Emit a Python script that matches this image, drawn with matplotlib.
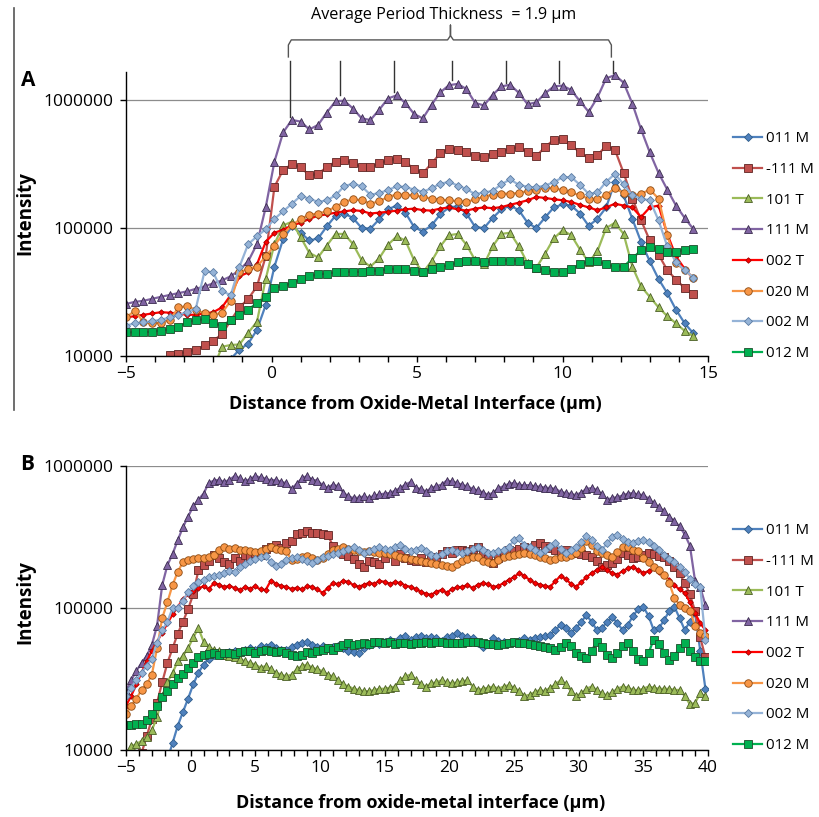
import numpy as np
import matplotlib
matplotlib.use('Agg')
import matplotlib.pyplot as plt
from matplotlib.lines import Line2D
from matplotlib.ticker import MultipleLocator, NullLocator

plt.rcParams['font.family'] = ['Open Sans', 'DejaVu Sans']

nan = np.nan

series_names = ['011 M', '-111 M', '101 T', '111 M', '002 T', '020 M', '002 M', '012 M']

# ---- panel A: depth grid (um), step 0.3 ----
xa = np.round(np.arange(-5.0, 14.51, 0.3), 2)

# intensities in thousands of counts
a_011M = [nan, nan, nan, nan, nan, nan, nan, nan, nan, nan,
          nan, nan, 9.5, 11.2, 12.5, 16, 25,
          50, 82, 103, 92, 80, 83, 103, 125, 130, 120,
          100, 99, 117, 140, 150, 132, 102, 94, 105, 128,
          145, 148, 130, 102, 100, 120, 140, 150, 138, 110,
          100, 121, 145, 153, 150, 130, 104, 118, 145, 230,
          180, 118, 78, 55, 40, 31, 23, 18, 15]
a_m111M = [nan, nan, nan, nan, nan, 10.1, 10.4, 10.8, 11.2, 12.1,
           13.2, 14.8, 19, 24, 28, 35, 60,
           210, 285, 315, 300, 258, 265, 300, 330, 338, 322,
           298, 300, 320, 338, 348, 330, 288, 268, 320, 385,
           418, 410, 392, 365, 362, 382, 395, 418, 430, 390,
           365, 430, 490, 495, 445, 390, 350, 370, 440, 410,
           270, 170, 115, 80, 62, 47, 39.5, 34, 30.5]
a_101T = [nan, nan, nan, nan, nan, nan, nan, nan, nan, nan,
          8, 11.8, 12.2, 12.3, 15.2, 18.5, 40,
          75, 105, 112, 85, 64, 59, 73, 90, 90, 75,
          56, 50, 58, 74, 86, 80, 56, 45, 55, 72,
          88, 90, 74, 56, 52, 72, 90, 92, 72, 53,
          49, 63, 83, 96, 88, 68, 54, 66, 100, 110,
          90, 50, 35, 29, 24, 20.5, 18, 15.7, 14.3]
a_111M = [25.5, 26.5, 27, 28, 29, 30, 31, 32, 33.5, 35,
          37, 39, 42, 47, 55, 75, 145,
          330, 560, 700, 680, 590, 640, 800, 980, 990, 860,
          720, 700, 840, 1030, 1090, 950, 780, 720, 920, 1150,
          1310, 1340, 1220, 950, 910, 1100, 1280, 1320, 1140, 930,
          960, 1130, 1280, 1300, 1200, 980, 810, 1050, 1480, 1570,
          1370, 940, 590, 390, 270, 200, 150, 120, 98]
a_002T = [20, 20.5, 21, 21.5, 22, 21.8, 21.5, 21, 21, 21.5,
          22, 24, 30, 42, 45, 52, 78,
          92, 97, 105, 110, 118, 125, 128, 132, 135, 138,
          136, 130, 132, 134, 137, 140, 142, 138, 137, 142,
          145, 140, 137, 142, 145, 143, 146, 152, 158, 165,
          175, 172, 168, 165, 160, 152, 145, 138, 145, 155,
          150, 145, 122, 145, 150, 90, 60, 48, 40]
a_020M = [20, 22.5, 18.5, 18, 18.2, 19, 24, 24.5, 23, 21.5,
          21, 21.8, 27, 45, 48, 50, 60,
          73, 90, 105, 118, 127, 130, 135, 147, 160, 168,
          165, 155, 162, 175, 183, 182, 180, 175, 170, 167,
          165, 162, 160, 168, 176, 183, 186, 186, 188, 195,
          200, 207, 205, 198, 190, 180, 170, 168, 182, 205,
          188, 180, 185, 200, 170, 88, 53, 47, 41]
a_002M = [17.3, 18, 18.3, 18.7, 19.2, 20, 21, 22, 23.5, 46,
          45, 32, 30, 50, 75, 86, 98,
          118, 135, 155, 178, 170, 160, 165, 180, 213, 222,
          212, 182, 188, 198, 212, 209, 200, 192, 205, 222,
          230, 215, 202, 184, 190, 195, 220, 240, 218, 210,
          208, 215, 228, 250, 250, 218, 185, 190, 230, 265,
          220, 180, 170, 165, 115, 72, 54, 47, 41]
a_012M = [15.3, 15.3, 15.3, 15.5, 15.8, 16.2, 17, 18.3, 19.2, 19.3,
          18, 17.3, 19, 21, 23, 26, 29,
          34, 35.5, 37, 40, 42, 43.5, 44, 45, 45.5, 45.5,
          45.5, 46, 46.5, 47.5, 48, 48, 46, 45.5, 48, 50,
          51, 54, 55.6, 55, 54, 55, 55.6, 55.6, 55, 52,
          49, 47, 45.5, 45.5, 48, 52, 55, 55, 52, 50,
          50, 58, 67, 71, 69, 65, 65, 68, 69]

# ---- panel B: depth grid (um), step 0.4 ----
xb = np.round(np.arange(-5.0, 39.81, 0.4), 2)

b_011M = [nan, nan, nan, nan, nan,  nan, nan, nan, 8.5, 11.2,
          14.8, 18.5, 23, 29, 35,  40, 44, 46.5, 48, 47,
          49, 50, 48.5, 51, 52,  51, 54, 53, 55, 52,
          50.5, 51, 53, 55, 57,  58, 55, 53, 54, 52,
          53, 54, 52, 50, 49,  48, 52, 55, 57, 56,
          58, 60, 58, 61, 63,  60, 62, 64, 61, 62,
          61, 59, 62, 64, 67,  64, 62, 61, 57, 53,
          56, 61, 59, 58, 57,  58, 59, 61, 60, 61,
          62, 63, 65, 70, 76,  72, 67, 72, 80, 89,
          80, 70, 72, 80, 86,  78, 70, 76, 88, 98,
          102, 88, 70, 72, 82,  95, 102, 85, 70, 80,
          92, 50, 27]
b_m111M = [nan, nan, nan, 9.5, 12.5,  16.5, 21.5, 30, 41, 52,
           66, 80, 98, 125, 185,  200, 215, 235, 225, 212,
           205, 225, 215, 235, 228,  245, 235, 260, 270, 278,
           265, 285, 295, 330, 340,  350, 335, 340, 330, 325,
           275, 255, 240, 232, 222,  205, 195, 215, 210, 205,
           225, 243, 215, 240, 225,  218, 215, 225, 212, 220,
           230, 240, 250, 245, 255,  258, 250, 262, 268, 245,
           220, 207, 225, 240, 256,  250, 262, 270, 265, 278,
           286, 275, 265, 258, 250,  255, 245, 243, 240, 235,
           230, 215, 195, 200, 207,  220, 243, 235, 225, 230,
           238, 245, 240, 232, 228,  215, 195, 175, 150, 125,
           95, 62, 45]
b_101T = [9.5, 10.6, 11, 11.6, 12.4,  13.8, 17, 24, 30, 35,
          42, 46, 52, 62, 72,  58, 53, 51, 50, 47,
          46, 45, 44, 42, 41,  40, 38, 39, 37, 35,
          34, 33, 34, 37, 39,  40, 38, 37, 36, 34,
          33, 31, 29, 28, 27,  26.5, 26, 26, 26.5, 27,
          27, 27.5, 28, 31, 33,  34, 31, 29, 28, 29.5,
          30, 31, 30, 29.5, 30,  30.5, 31, 28, 26.5, 27,
          27.5, 28, 27, 28, 28.6,  27.5, 26, 24, 24.5, 25.5,
          26.5, 26, 27.5, 29, 31,  29, 26, 24, 25, 27,
          28, 26.5, 25, 24.3, 25.5,  27, 28, 27.5, 26.5, 26.5,
          27, 28, 27.5, 27, 27,  27, 26.5, 26.5, 24, 21,
          21.5, 25, 24]
b_111M = [26, 31, 36, 41, 46,  55, 75, 145, 200, 240,
          300, 370, 440, 520, 580,  640, 760, 790, 800, 770,
          800, 850, 820, 780, 810,  850, 830, 815, 790, 800,
          770, 760, 690, 750, 820,  850, 800, 790, 730, 700,
          740, 720, 650, 610, 595,  600, 610, 595, 620, 630,
          640, 645, 670, 700, 740,  770, 700, 690, 660, 700,
          720, 740, 790, 780, 760,  735, 720, 690, 675, 650,
          625, 650, 700, 720, 750,  760, 740, 730, 735, 720,
          715, 705, 700, 690, 660,  645, 635, 625, 650, 690,
          700, 680, 630, 580, 595,  605, 620, 640, 645, 630,
          625, 590, 545, 515, 480,  440, 410, 375, 330, 275,
          155, 140, 105]
b_002T = [20.5, 24, 29, 35, 42,  50, 58, 67, 78, 90,
          102, 115, 125, 132, 138,  142, 136, 150, 146, 140,
          144, 138, 134, 140, 137,  142, 135, 134, 156, 148,
          143, 141, 136, 139, 135,  142, 141, 135, 128, 138,
          150, 147, 156, 152, 145,  141, 146, 150, 148, 155,
          153, 148, 152, 150, 144,  141, 136, 130, 126, 124,
          130, 134, 128, 136, 140,  141, 145, 138, 146, 150,
          147, 141, 143, 150, 158,  165, 176, 168, 158, 150,
          146, 143, 141, 155, 168,  160, 148, 141, 152, 165,
          176, 185, 195, 185, 176,  172, 182, 190, 195, 185,
          176, 182, 190, 178, 170,  158, 145, 135, 128, 110,
          92, 78, 70]
b_020M = [18, 20.5, 23, 26.5, 29,  34, 52, 85, 110, 145,
          180, 210, 218, 222, 225,  226, 230, 235, 255, 268,
          262, 265, 258, 255, 250,  248, 252, 262, 270, 262,
          258, 250, 218, 222, 230,  232, 225, 218, 226, 240,
          256, 262, 270, 262, 255,  250, 248, 250, 248, 245,
          243, 240, 235, 230, 225,  220, 218, 214, 210, 207,
          205, 200, 198, 195, 205,  215, 222, 228, 230, 215,
          210, 207, 218, 230, 232,  236, 240, 243, 240, 235,
          230, 225, 218, 222, 228,  230, 236, 243, 265, 295,
          280, 252, 243, 235, 230,  248, 268, 270, 258, 250,
          225, 210, 195, 185, 172,  150, 118, 105, 100, 96,
          75, 67, 63]
b_002M = [24, 27.5, 31, 35, 39,  44, 57, 70, 80, 100,
          100, 112, 130, 142, 152,  158, 164, 168, 172, 176,
          182, 178, 195, 205, 214,  220, 228, 232, 210, 196,
          205, 218, 225, 230, 222,  215, 207, 218, 228, 232,
          240, 244, 252, 262, 270,  258, 245, 250, 262, 270,
          262, 256, 268, 278, 262,  252, 258, 264, 250, 238,
          232, 240, 250, 256, 248,  243, 252, 262, 270, 255,
          245, 243, 250, 256, 270,  300, 310, 280, 268, 258,
          245, 256, 275, 286, 262,  243, 255, 268, 290, 320,
          300, 275, 258, 285, 315,  325, 305, 290, 286, 295,
          300, 290, 272, 255, 238,  222, 210, 195, 180, 160,
          148, 140, 60]
b_012M = [14.9, 15.1, 15.3, 15.3, 16.2,  17.8, 20.5, 23.5, 26, 29,
          32, 34.5, 37.5, 41, 45,  47, 47.5, 48, 47, 48.5,
          48, 47.5, 49, 50, 49.5,  48.5, 50, 51, 50, 49,
          50, 48, 47, 46, 47,  49, 48, 50, 51, 52,
          51, 53, 55, 56.5, 55,  56, 57, 56, 57.5, 58,
          57, 58, 56, 56.6, 57,  56, 56.6, 57, 58, 57,
          58, 57.5, 56.5, 57, 56.6,  57, 58, 57.5, 58, 57,
          56, 55.5, 55, 56, 57,  58, 57, 56.6, 56, 55,
          54, 53, 52, 51, 53,  56.6, 54, 48, 46, 44.5,
          50, 58, 53, 47, 44.5,  48, 54, 56.6, 50, 44,
          42, 48, 60, 56, 48,  43, 46, 52, 56.6, 50,
          45, 42, 42]

series_a = [a_011M, a_m111M, a_101T, a_111M, a_002T, a_020M, a_002M, a_012M]
series_b = [b_011M, b_m111M, b_101T, b_111M, b_002T, b_020M, b_002M, b_012M]

# line colour, marker, marker size, face, edge
styles = [
    ('#4F81BD', 'D', 4.2, '#4F81BD', '#2E5C8A'),
    ('#C0504D', 's', 5.2, '#C0504D', '#5E2422'),
    ('#9BBB59', '^', 6.0, '#9BBB59', '#4A5E25'),
    ('#8064A2', '^', 6.0, '#8064A2', '#3A2B4E'),
    ('#FF0000', 'D', 2.8, '#FF0000', '#A00000'),
    ('#F79646', 'o', 5.4, '#F79646', '#8E4B12'),
    ('#95B3D7', 'D', 4.2, '#95B3D7', '#5A7BA3'),
    ('#00B050', 's', 5.2, '#00B050', '#1D4D2B'),
]

W, H = 819, 817
fig = plt.figure(figsize=(W / 100, H / 100), dpi=100)


def fx(px):
    return px / W


def fy(py):
    return 1 - py / H


def draw_panel(ax, x, series, xmax, ytop, legend_top):
    for name, ys, (lc, mk, ms, fc, ec) in zip(series_names, series, styles):
        ax.plot(x, np.array(ys, dtype=float) * 1000, color=lc, lw=1.6,
                marker=mk, ms=ms, mfc=fc, mec=ec, mew=0.6, label=name)
    ax.set_yscale('log')
    ax.set_ylim(1e4, ytop)
    ax.set_xlim(-5, xmax)
    ax.set_yticks([1e4, 1e5, 1e6])
    ax.set_yticklabels(['10000', '100000', '1000000'])
    ax.yaxis.set_minor_locator(NullLocator())
    ax.set_xticks(np.arange(-5, xmax + 1, 5))
    ax.xaxis.set_minor_locator(MultipleLocator(1))
    ax.tick_params(axis='both', which='both', direction='out', length=4.5,
                   width=1, labelsize=12.5, color='black')
    ax.tick_params(axis='y', pad=4.5)
    ax.tick_params(axis='x', pad=2.5)
    ax.grid(axis='y', which='major', color='#8C8C8C', lw=0.9)
    ax.set_axisbelow(True)
    for s in ('top', 'right'):
        ax.spines[s].set_visible(False)
    for s in ('left', 'bottom'):
        ax.spines[s].set_linewidth(1.0)
    ax.legend(loc='upper left', bbox_to_anchor=(fx(733), fy(legend_top)),
              bbox_transform=fig.transFigure, frameon=False, borderpad=0,
              borderaxespad=0, handlelength=1.95, handletextpad=0.25,
              labelspacing=1.05, fontsize=10.8, numpoints=1)


ax_a = fig.add_axes([fx(126), fy(356), fx(708) - fx(126), fy(72) - fy(356)])
draw_panel(ax_a, xa, series_a, 15, 1.66e6, 131)

ax_b = fig.add_axes([fx(126), fy(750), fx(708) - fx(126), fy(466) - fy(750)])
draw_panel(ax_b, xb, series_b, 40, 1e6, 523)

# bracket above panel A (x in data, y in axes fraction)
tr = ax_a.get_xaxis_transform()
bracket_x = [0.58, 0.58, 0.68, 6.05, 6.15, 6.15, 6.15, 6.25, 11.58, 11.68, 11.68]
bracket_y = [1.053, 1.095, 1.113, 1.113, 1.128, 1.165, 1.128, 1.113, 1.113, 1.095, 1.053]
ax_a.add_line(Line2D(bracket_x, bracket_y, transform=tr, color='#555555',
                     lw=1.0, clip_on=False))
peak_x = [0.62, 2.34, 4.22, 6.2, 8.05, 9.89, 11.73]
peak_bottom = [0.842, 0.919, 0.930, 0.972, 0.961, 0.961, 0.996]
for px_, pb in zip(peak_x, peak_bottom):
    ax_a.add_line(Line2D([px_, px_], [1.039, pb], transform=tr, color='#333333',
                         lw=1.0, clip_on=False))
ax_a.text(5.9, 1.20, 'Average Period Thickness  = 1.9 \u00b5m', transform=tr,
          ha='center', va='center', fontsize=11.6)

# labels
fig.text(fx(28), fy(80), 'A', fontsize=15, fontweight='bold', ha='center', va='center')
fig.text(fx(27), fy(465), 'B', fontsize=15, fontweight='bold', ha='center', va='center')
fig.text(fx(25), fy(213), 'Intensity', rotation=90, fontsize=13.5, fontweight='bold',
         ha='center', va='center')
fig.text(fx(25), fy(602), 'Intensity', rotation=90, fontsize=13.5, fontweight='bold',
         ha='center', va='center')
fig.text(fx(415), fy(404), 'Distance from Oxide-Metal Interface (\u00b5m)', fontsize=13,
         fontweight='bold', ha='center', va='center')
fig.text(fx(421), fy(803), 'Distance from oxide-metal interface (\u00b5m)', fontsize=13,
         fontweight='bold', ha='center', va='center')

# frame line at the left of panel A
fig.add_artist(Line2D([fx(14), fx(14)], [fy(8), fy(410)], transform=fig.transFigure,
                      color='#555555', lw=1.2))

fig.savefig('out.png', dpi=100)
